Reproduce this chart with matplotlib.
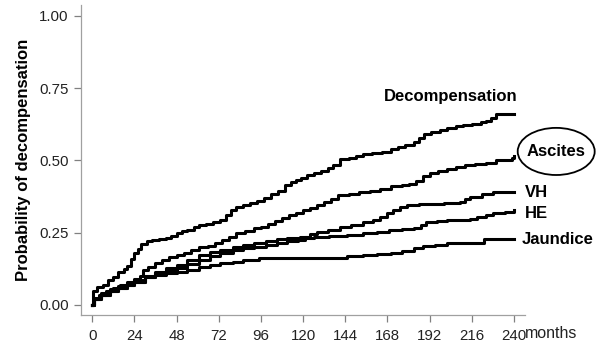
import numpy as np
import matplotlib
matplotlib.use("Agg")
import matplotlib.pyplot as plt
from matplotlib.patches import Ellipse

plt.rcParams['font.family'] = ['Liberation Sans', 'DejaVu Sans']

# cumulative incidence (months, probability)
decomp_t = [0, 0.5, 3, 6, 9, 12, 15, 18, 20, 22, 24, 26, 28, 31, 34, 38, 42, 45, 48, 51, 54, 58, 61, 65,
            69, 73, 76, 79, 82, 86, 90, 94, 98, 102, 106, 110, 113, 116, 119, 122, 126, 130, 134, 137, 141,
            146, 150, 154, 159, 165, 170, 174, 178, 183, 186, 189, 193, 198, 202, 207, 211, 216, 221, 224,
            227, 230, 240]
decomp_p = [0.0, 0.05, 0.062, 0.07, 0.085, 0.095, 0.115, 0.125, 0.135, 0.16, 0.18, 0.195, 0.21, 0.22, 0.225,
            0.228, 0.232, 0.24, 0.25, 0.255, 0.26, 0.268, 0.275, 0.28, 0.288, 0.295, 0.31, 0.33, 0.34, 0.345,
            0.352, 0.36, 0.37, 0.385, 0.395, 0.415, 0.425, 0.432, 0.44, 0.45, 0.455, 0.465, 0.475, 0.485,
            0.505, 0.51, 0.515, 0.522, 0.525, 0.53, 0.538, 0.545, 0.552, 0.565, 0.578, 0.59, 0.598, 0.605,
            0.612, 0.618, 0.622, 0.627, 0.632, 0.635, 0.648, 0.66, 0.66]

ascites_t = [0, 1, 4, 8, 12, 16, 20, 24, 27, 29, 32, 36, 40, 44, 48, 52, 56, 61, 66, 70, 74, 78, 82, 87, 92,
             96, 100, 104, 108, 112, 116, 120, 124, 128, 132, 136, 140, 146, 152, 158, 164, 170, 176, 180,
             184, 188, 192, 197, 202, 207, 212, 218, 224, 230, 236, 239, 240]
ascites_p = [0.0, 0.02, 0.035, 0.05, 0.06, 0.07, 0.08, 0.09, 0.1, 0.12, 0.13, 0.145, 0.155, 0.165, 0.173,
             0.18, 0.19, 0.2, 0.205, 0.215, 0.225, 0.235, 0.248, 0.255, 0.265, 0.27, 0.28, 0.292, 0.3, 0.31,
             0.318, 0.33, 0.335, 0.345, 0.355, 0.368, 0.38, 0.385, 0.39, 0.395, 0.4, 0.41, 0.415, 0.42, 0.43,
             0.445, 0.455, 0.465, 0.47, 0.478, 0.484, 0.488, 0.492, 0.5, 0.503, 0.51, 0.515]

vh_t = [0, 1, 5, 10, 15, 20, 24, 30, 36, 42, 48, 54, 61, 67, 73, 80, 86, 92, 99, 105, 111, 117, 121, 124,
        128, 134, 141, 147, 154, 160, 164, 168, 171, 175, 179, 186, 192, 200, 209, 212, 215, 222, 228, 240]
vh_p = [0.0, 0.02, 0.035, 0.05, 0.06, 0.07, 0.08, 0.095, 0.11, 0.12, 0.128, 0.14, 0.156, 0.168, 0.18, 0.19,
        0.196, 0.202, 0.207, 0.214, 0.22, 0.225, 0.235, 0.245, 0.252, 0.26, 0.27, 0.278, 0.288, 0.295, 0.305,
        0.318, 0.33, 0.338, 0.346, 0.348, 0.35, 0.353, 0.357, 0.368, 0.375, 0.383, 0.39, 0.392]

he_t = [0, 1, 5, 10, 15, 20, 24, 30, 36, 42, 48, 54, 61, 67, 73, 80, 86, 92, 99, 105, 111, 118, 122, 126,
        135, 145, 154, 162, 169, 176, 183, 187, 190, 196, 202, 208, 215, 219, 224, 228, 235, 239, 240]
he_p = [0.0, 0.025, 0.04, 0.055, 0.065, 0.075, 0.085, 0.1, 0.115, 0.128, 0.138, 0.155, 0.173, 0.182, 0.19,
        0.2, 0.208, 0.215, 0.222, 0.228, 0.232, 0.236, 0.233, 0.234, 0.238, 0.243, 0.248, 0.253, 0.26, 0.262,
        0.266, 0.278, 0.288, 0.29, 0.294, 0.295, 0.297, 0.305, 0.31, 0.318, 0.32, 0.322, 0.33]

jaund_t = [0, 1, 5, 10, 15, 20, 24, 30, 36, 42, 48, 54, 61, 67, 73, 80, 86, 95, 107, 135, 145, 154, 162, 170,
           176, 183, 188, 195, 202, 210, 219, 223, 240]
jaund_p = [0.0, 0.02, 0.035, 0.05, 0.06, 0.07, 0.08, 0.095, 0.103, 0.11, 0.115, 0.122, 0.13, 0.138, 0.145,
           0.15, 0.155, 0.162, 0.163, 0.163, 0.168, 0.173, 0.176, 0.18, 0.188, 0.197, 0.204, 0.208, 0.214,
           0.215, 0.215, 0.228, 0.228]

x_ticks = [0, 24, 48, 72, 96, 120, 144, 168, 192, 216, 240]
y_ticks = [0.0, 0.25, 0.5, 0.75, 1.0]

fig = plt.figure(figsize=(5.96, 3.47), dpi=100)
ax = fig.add_axes([0.136, 0.092, 0.745, 0.894])

for t, p in [(decomp_t, decomp_p), (ascites_t, ascites_p), (vh_t, vh_p), (he_t, he_p), (jaund_t, jaund_p)]:
    ax.plot(t, p, color='black', lw=2.2, drawstyle='steps-post', solid_joinstyle='round')

ax.set_xlim(-6.3, 246.3)
ax.set_ylim(-0.035, 1.038)
ax.set_xticks(x_ticks)
ax.set_yticks(y_ticks)
ax.set_yticklabels([f"{v:.2f}" for v in y_ticks])

for s in ['top', 'right']:
    ax.spines[s].set_visible(False)
for s in ['left', 'bottom']:
    ax.spines[s].set_color('#a0a0a0')
    ax.spines[s].set_linewidth(0.9)
ax.tick_params(direction='out', length=5, width=0.9, color='#808080', labelsize=10.8,
               labelcolor='#222222')
ax.tick_params(axis='y', pad=4)
ax.tick_params(axis='x', pad=5)

ax.set_ylabel("Probability of decompensation", fontsize=12, fontweight='bold', labelpad=6)

# curve labels
ax.text(204, 0.72, "Decompensation", fontsize=12, fontweight='bold', ha='center', va='center')
ax.text(264, 0.53, "Ascites", fontsize=12, fontweight='bold', ha='center', va='center', clip_on=False)
ax.add_patch(Ellipse((264, 0.531), 43.8, 0.163, fill=False, edgecolor='black', lw=1.3, clip_on=False))
ax.text(246.3, 0.39, "VH", fontsize=12, fontweight='bold', ha='left', va='center', clip_on=False)
ax.text(246.3, 0.318, "HE", fontsize=12, fontweight='bold', ha='left', va='center', clip_on=False)
ax.text(244.6, 0.228, "Jaundice", fontsize=12, fontweight='bold', ha='left', va='center', clip_on=False)
ax.text(246.3, -0.1, "months", fontsize=11.5, ha='left', va='center', color='#222222', clip_on=False)

fig.savefig("out.png", dpi=100)
